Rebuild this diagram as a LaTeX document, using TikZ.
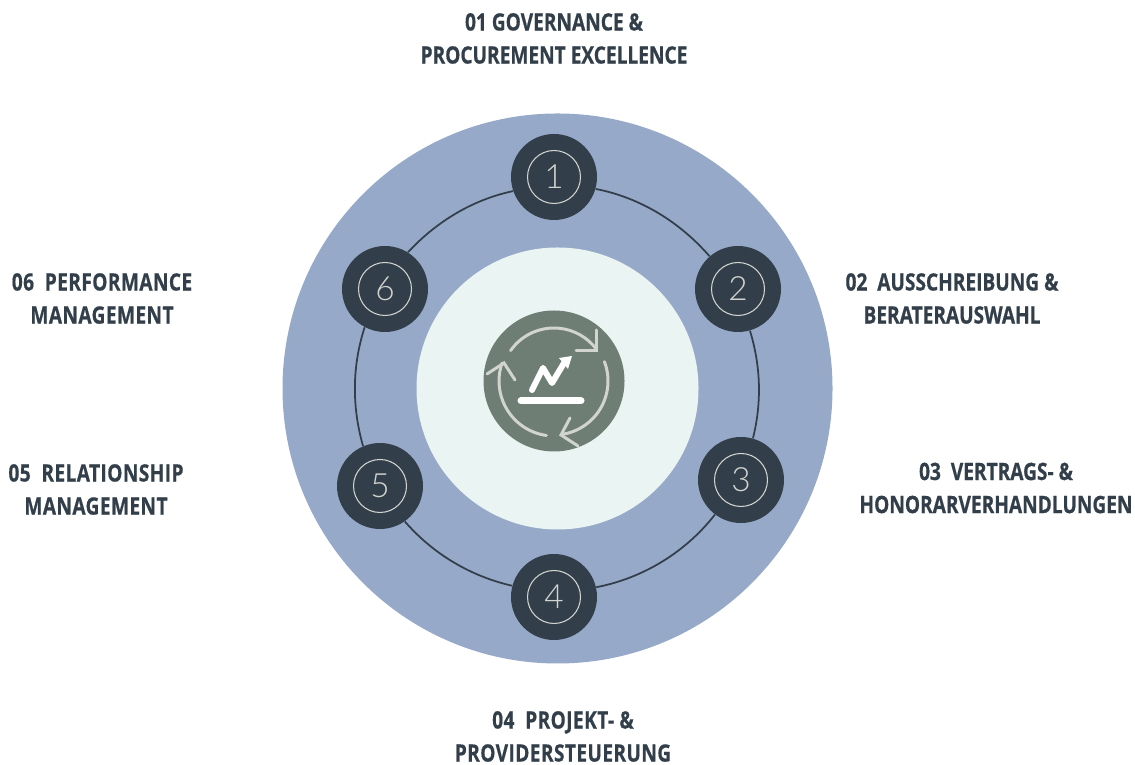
\documentclass[tikz,border=0pt]{standalone}
\usepackage{fontspec}
\setmainfont{Open Sans}[BoldFont={Open Sans Bold},BoldFeatures={FakeStretch=0.8,FakeBold=0.6}]
\newfontfamily\numfont{Lato Light}
\definecolor{slate}{HTML}{323F4A}
\definecolor{ringblue}{HTML}{97A9C8}
\definecolor{palegreen}{HTML}{EAF5F3}
\definecolor{icongreen}{HTML}{6E7E74}
\definecolor{iconline}{HTML}{D2D4D0}
\tikzset{
  numdisc/.style={circle, fill=slate, minimum size=17.2mm, inner sep=0},
  numring/.style={circle, draw=iconline, line width=0.6pt, minimum size=10.6mm, inner sep=0, text=iconline, font=\numfont\fontsize{19}{19}\selectfont},
  steplabel/.style={align=center, text=slate, font=\bfseries\fontsize{13.6}{18.8}\selectfont},
  widelabel/.style={steplabel, font=\bfseries\fontsize{13.6}{18.8}\selectfont\addfontfeature{LetterSpace=1.7}},
  ringline/.style={draw=slate, line width=1pt, looseness=0.88},
  cyclearrow/.style={draw=iconline, line width=1.7pt, line cap=round, line join=miter},
}
\begin{document}
\begin{tikzpicture}[x=0.2mm, y=0.2mm]
  \useasboundingbox (0,0) rectangle (1135,765);

  \fill [ringblue] (557.5,376.5) circle (275);
  \fill [palegreen] (557.5,376.5) circle (141);

  \node (n1) [numdisc] at (554,588) {};
  \node (n2) [numdisc] at (738,476) {};
  \node (n3) [numdisc] at (741,285) {};
  \node (n4) [numdisc] at (554,168) {};
  \node (n5) [numdisc] at (380,279) {};
  \node (n6) [numdisc] at (385,476) {};

  \node (r1) [numring] at (n1) {1};
  \node (r2) [numring] at (n2) {2};
  \node (r3) [numring] at (n3) {3};
  \node (r4) [numring] at (n4) {4};
  \node (r5) [numring] at (n5) {5};
  \node (r6) [numring] at (n6) {6};

  \draw [ringline] (n1.344) to [out=-11, in=131] (n2.131);
  \draw [ringline] (n2.286) to [out=-73, in=76] (n3.74);
  \draw [ringline] (n3.233) to [out=-128, in=11] (n4.13);
  \draw [ringline] (n4.165) to [out=167, in=-49] (n5.305);
  \draw [ringline] (n5.113) to [out=106, in=252] (n6.242);
  \draw [ringline] (n6.58) to [out=47, in=192] (n1.199);

  \node (l1) [steplabel] at (554,726.5) {01 GOVERNANCE \&\\PROCUREMENT EXCELLENCE};
  \node (l2) [steplabel] at (952,466.5) {02\ \ AUSSCHREIBUNG \&\\BERATERAUSWAHL};
  \node (l3) [steplabel] at (996,277) {03\ \ VERTRAGS- \&\\HONORARVERHANDLUNGEN};
  \node (l4) [widelabel] at (563,28.5) {04\ \ PROJEKT- \&\\PROVIDERSTEUERUNG};
  \node (l5) [widelabel] at (96,275.5) {05\ \ RELATIONSHIP\\MANAGEMENT};
  \node (l6) [widelabel] at (102,466.5) {06\ \ PERFORMANCE\\MANAGEMENT};

  % centre icon
  \node (icon) [circle, fill=icongreen, minimum size=28.2mm, inner sep=0] at (554,384) {};
  \begin{scope}[shift={(icon.center)}]
    \draw [cyclearrow] (145:53) arc (145:36:53);
    \draw [cyclearrow] (42,51) -- (42,30) -- (22,30);
    \draw [cyclearrow] (21:54) arc (21:-82:54);
    \draw [cyclearrow] (16,-37) -- (7,-54) -- (24,-65);
    \draw [cyclearrow] (262:55) arc (262:161:55);
    \draw [cyclearrow] (-67,7) -- (-50,18) -- (-39,1);
    \draw [white, line width=1.4mm, line cap=round] (-33,-20) -- (27,-20);
    \draw [white, line width=1.2mm, line cap=round, line join=round] (-22,-9) -- (-11,13) -- (-2,-2) -- (10,18);
    \fill [white] (5,23) -- (18,25) -- (14,12) -- cycle;
  \end{scope}
\end{tikzpicture}
\end{document}
